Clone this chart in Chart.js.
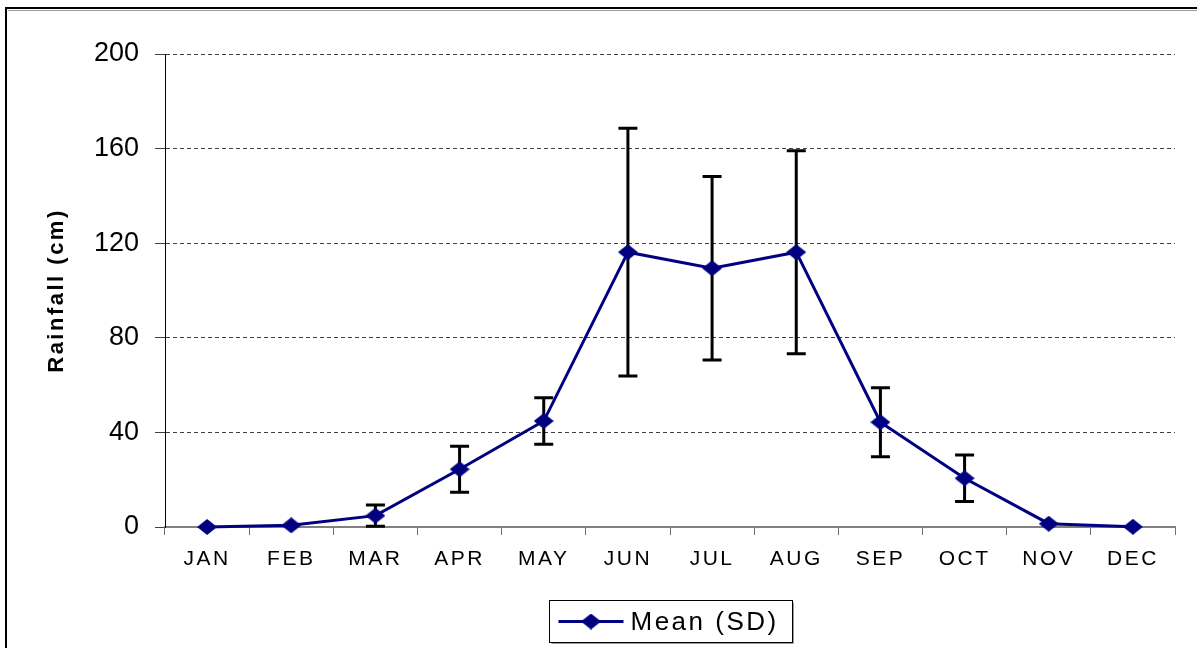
<!DOCTYPE html>
<html>
<head>
<meta charset="utf-8">
<title>Rainfall</title>
<script src="https://cdn.jsdelivr.net/npm/chart.js@4.4.0/dist/chart.umd.min.js"></script>
<style>
  html, body { margin: 0; padding: 0; background: #fff; }
  #wrap { position: relative; width: 1197px; height: 648px; }
</style>
</head>
<body>
<div id="wrap"><canvas id="rainfall-chart"></canvas></div>
<script>
"use strict";

// values
const months = ["JAN", "FEB", "MAR", "APR", "MAY", "JUN", "JUL", "AUG", "SEP", "OCT", "NOV", "DEC"];
const meanRainfall = [0, 0.7, 4.8, 24.4, 44.8, 116.2, 109.4, 116.2, 44.3, 20.6, 1.4, 0.1];
const sdRainfall = [0, 0, 4.5, 9.7, 9.8, 52.4, 38.8, 42.9, 14.6, 9.8, 0, 0];
const yTicks = [0, 40, 80, 120, 160, 200];
const seriesLabel = "Mean (SD)";
const yTitle = "Rainfall (cm)";

(function () {
  const NAVY = "#000080";
  const FONT = "'Liberation Sans', Arial, Helvetica, sans-serif";
  const SPACING = "2.5px";

  /**
   * Builds a small canvas with a filled diamond, used as point style.
   */
  function makeDiamond(w, h, color) {
    const c = document.createElement("canvas");
    c.width = w;
    c.height = h;
    const g = c.getContext("2d");
    g.fillStyle = color;
    g.beginPath();
    g.moveTo(w / 2, 0);
    g.lineTo(w, h / 2);
    g.lineTo(w / 2, h);
    g.lineTo(0, h / 2);
    g.closePath();
    g.fill();
    return c;
  }

  const diamond = makeDiamond(20, 16, NAVY);

  // the picture's text is spread out a little
  const spacingPlugin = {
    id: "spacing",
    beforeUpdate(chart) {
      chart.ctx.letterSpacing = SPACING;
    },
    beforeDraw(chart) {
      chart.ctx.letterSpacing = SPACING;
    },
  };

  // y tick numbers are set tight, unlike the rest of the text
  function drawLabelsTight(chartArea) {
    const c = this.ctx;
    const prev = c.letterSpacing;
    c.letterSpacing = "0px";
    Object.getPrototypeOf(this).drawLabels.call(this, chartArea);
    c.letterSpacing = prev;
  }

  const framePlugin = {
    id: "frame",
    beforeDraw(chart) {
      const ctx = chart.ctx;
      ctx.save();
      ctx.fillStyle = "#fff";
      ctx.fillRect(0, 0, chart.width, chart.height);
      ctx.strokeStyle = "#9a9a9a";
      ctx.lineWidth = 1;
      ctx.beginPath();
      ctx.moveTo(8, 10.5);
      ctx.lineTo(chart.width, 10.5);
      ctx.stroke();
      ctx.strokeStyle = "#000";
      ctx.lineWidth = 2;
      ctx.beginPath();
      ctx.moveTo(6, chart.height);
      ctx.lineTo(6, 8);
      ctx.lineTo(chart.width, 8);
      ctx.stroke();
      ctx.restore();
    },
  };

  const errorBarPlugin = {
    id: "errorBars",
    beforeDatasetsDraw(chart) {
      const meta = chart.getDatasetMeta(0);
      const yScale = chart.scales.y;
      const ctx = chart.ctx;
      const cap = 9.5;
      ctx.save();
      ctx.strokeStyle = "#000";
      ctx.lineWidth = 3;
      meta.data.forEach((point, i) => {
        const sd = sdRainfall[i];
        if (!sd) {
          return;
        }
        const top = yScale.getPixelForValue(meanRainfall[i] + sd);
        const bottom = yScale.getPixelForValue(meanRainfall[i] - sd);
        ctx.beginPath();
        ctx.moveTo(point.x, top);
        ctx.lineTo(point.x, bottom);
        ctx.moveTo(point.x - cap, top);
        ctx.lineTo(point.x + cap, top);
        ctx.moveTo(point.x - cap, bottom);
        ctx.lineTo(point.x + cap, bottom);
        ctx.stroke();
      });
      ctx.restore();
    },
  };

  const legendBoxPlugin = {
    id: "legendBox",
    afterDraw(chart) {
      const ctx = chart.ctx;
      const area = chart.chartArea;
      const ds = chart.data.datasets[0];
      ctx.save();
      ctx.letterSpacing = SPACING;
      ctx.font = `26px ${FONT}`;
      const textWidth = ctx.measureText(ds.label).width;
      const sample = 65;
      const boxW = Math.round(9 + sample + 7 + textWidth + 14);
      const boxH = 42;
      const left = Math.round((area.left + area.right) / 2 - boxW / 2) + 0.5;
      const top = chart.height - 47.5;
      const midY = top + boxH / 2;

      ctx.strokeStyle = "#a0a0a0";
      ctx.lineWidth = 1;
      ctx.beginPath();
      ctx.moveTo(left + 2, top + boxH + 1);
      ctx.lineTo(left + boxW + 1, top + boxH + 1);
      ctx.lineTo(left + boxW + 1, top + 2);
      ctx.stroke();
      ctx.strokeStyle = "#000";
      ctx.strokeRect(left, top, boxW, boxH);

      ctx.strokeStyle = ds.borderColor;
      ctx.lineWidth = ds.borderWidth;
      ctx.beginPath();
      ctx.moveTo(left + 9, midY);
      ctx.lineTo(left + 9 + sample, midY);
      ctx.stroke();
      ctx.drawImage(diamond, left + 9 + sample / 2 - diamond.width / 2, midY - diamond.height / 2);

      ctx.fillStyle = "#000";
      ctx.textBaseline = "middle";
      ctx.textAlign = "left";
      ctx.fillText(ds.label, left + 9 + sample + 7, midY + 1);
      ctx.restore();
    },
  };

  const ctx = document.getElementById("rainfall-chart").getContext("2d");

  new Chart(ctx, {
    type: "line",
    data: {
      labels: months,
      datasets: [
        {
          label: seriesLabel,
          data: meanRainfall,
          borderColor: NAVY,
          backgroundColor: NAVY,
          borderWidth: 3,
          tension: 0,
          fill: false,
          clip: false,
          pointStyle: diamond,
          pointRadius: 9,
          pointHoverRadius: 9,
        },
      ],
    },
    options: {
      responsive: true,
      maintainAspectRatio: false,
      animation: false,
      events: [],
      layout: {
        padding: { top: 54, right: 22, bottom: 0, left: 0 },
      },
      scales: {
        x: {
          type: "category",
          offset: true,
          grid: {
            offset: true,
            drawOnChartArea: false,
            drawTicks: true,
            tickLength: 8,
            tickColor: "#707070",
            tickWidth: 1,
          },
          border: { display: true, color: "#808080", width: 2 },
          ticks: {
            color: "#000",
            font: { family: FONT, size: 21 },
            padding: 12,
            maxRotation: 0,
            autoSkip: false,
          },
          afterFit(scale) {
            scale.height = 121;
          },
        },
        y: {
          min: 0,
          max: 200,
          afterBuildTicks(scale) {
            scale.ticks = yTicks.map((v) => ({ value: v }));
          },
          grid: {
            color: "#404040",
            lineWidth: 1,
            drawTicks: true,
            tickLength: 10,
            tickColor: "#404040",
            tickWidth: 1,
          },
          border: { display: true, color: "#000", width: 1, dash: [4, 3] },
          ticks: {
            color: "#000",
            font: { family: FONT, size: 27 },
            padding: 16,
          },
          title: {
            display: true,
            text: yTitle,
            color: "#000",
            font: { family: FONT, size: 22, weight: "bold" },
            padding: { top: 44, bottom: 0 },
          },
          afterFit(scale) {
            scale.width = 165;
            scale.drawLabels = drawLabelsTight;
          },
        },
      },
      plugins: {
        legend: { display: false },
        tooltip: { enabled: false },
      },
    },
    plugins: [spacingPlugin, framePlugin, errorBarPlugin, legendBoxPlugin],
  });
})();
</script>
</body>
</html>
